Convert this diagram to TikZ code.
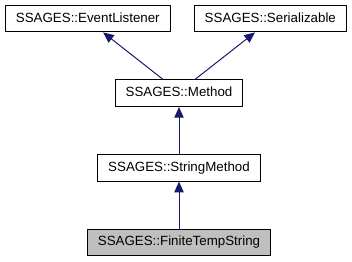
\documentclass[tikz,border=0pt]{standalone}
\usepackage{fontspec}
\setmainfont{Liberation Sans}
\usetikzlibrary{arrows.meta}
\definecolor{edgeblue}{HTML}{191970}
\definecolor{boxgray}{HTML}{BFBFBF}
\begin{document}
\begin{tikzpicture}[x=0.75pt,y=-0.75pt,
  cls/.style={draw=black, line width=0.75pt, fill=white, minimum height=19.95pt,
    inner xsep=7.9pt, inner ysep=0pt, text height=7.2pt, text depth=2pt,
    font=\fontsize{10}{12}\selectfont},
  current/.style={cls, fill=boxgray},
  inherit/.style={draw=edgeblue, line width=0.75pt,
    -{Triangle[length=8pt,width=7pt,fill=edgeblue]}}
]
\useasboundingbox (0,0) rectangle (352,261);

% class boxes
\node[cls] (evt) at (87.8,18.6) {SSAGES::EventListener};
\node[cls] (ser) at (270.3,18.6) {SSAGES::Serializable};
\node[cls] (method) at (179,93.2) {SSAGES::Method};
\node[cls] (string) at (179,167.8) {SSAGES::StringMethod};
\node[current] (finite) at (179,242.4) {SSAGES::FiniteTempString};

% inheritance arrows (child -> parent)
\draw[inherit] ([xshift=-12pt]method.north) -- ([xshift=11.5pt]evt.south);
\draw[inherit] ([xshift=12pt]method.north) -- ([xshift=-11.5pt]ser.south);
\draw[inherit] (string.north) -- (method.south);
\draw[inherit] (finite.north) -- (string.south);
\end{tikzpicture}
\end{document}
